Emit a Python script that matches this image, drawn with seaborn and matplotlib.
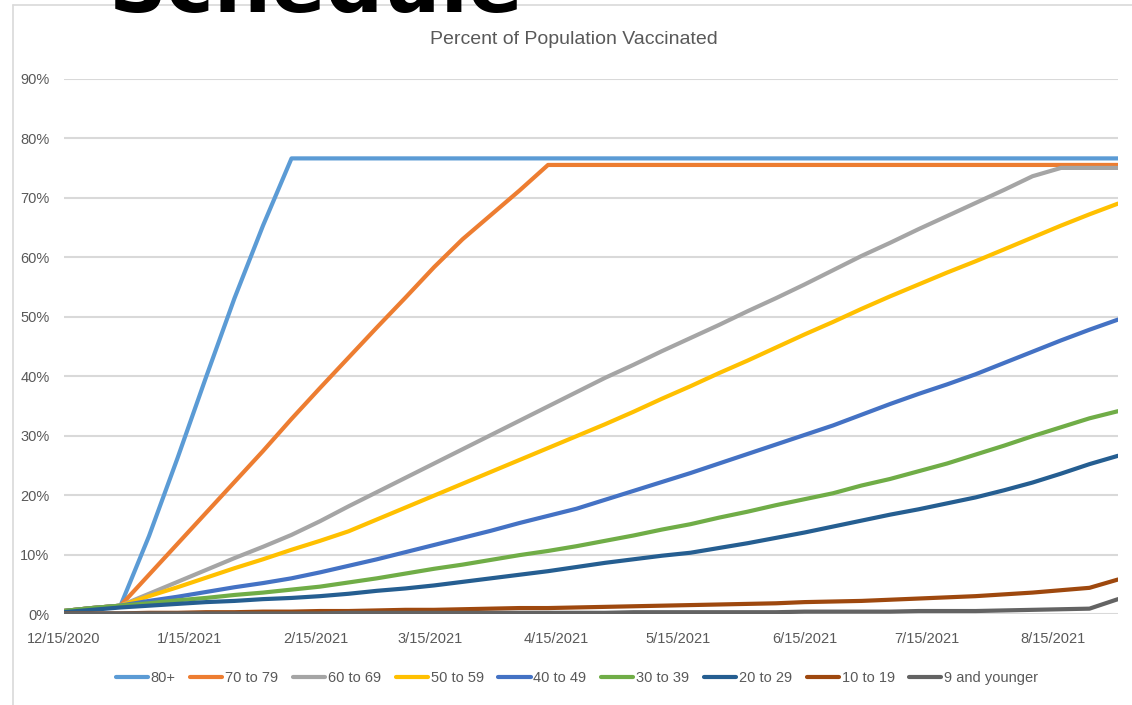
import matplotlib
matplotlib.use("Agg")
import matplotlib.pyplot as plt
from matplotlib.ticker import PercentFormatter, MultipleLocator
from matplotlib.lines import Line2D
import pandas as pd
import seaborn as sns

# Weekly reporting dates (Tuesdays)
dates = pd.date_range("2020-12-15", periods=38, freq="7D")

# Percent of each age group vaccinated, week by week
age_80_plus = [0.5, 1.0, 1.4, 13.1, 26.2, 39.8, 53.1, 65.3, 76.6] + [76.6] * 29
age_70_79 = [0.5, 1.0, 1.4, 6.6, 11.8, 17.0, 22.2, 27.4, 32.8, 38.0, 43.1, 48.2,
             53.2, 58.3, 63.0, 67.1, 71.2, 75.5] + [75.5] * 20
age_60_69 = [0.5, 1.0, 1.4, 3.4, 5.4, 7.4, 9.4, 11.3, 13.3, 15.6, 18.1, 20.5,
             22.9, 25.3, 27.7, 30.1, 32.5, 34.9, 37.3, 39.7, 41.9, 44.2, 46.4,
             48.6, 50.9, 53.1, 55.4, 57.8, 60.2, 62.4, 64.7, 66.9, 69.1, 71.3,
             73.6, 75.0, 75.0, 75.0]
age_50_59 = [0.5, 1.0, 1.4, 3.0, 4.5, 6.1, 7.7, 9.2, 10.8, 12.3, 13.9, 15.9,
             17.9, 19.9, 21.9, 23.9, 25.9, 27.9, 29.9, 31.9, 34.0, 36.2, 38.3,
             40.5, 42.6, 44.8, 47.0, 49.1, 51.3, 53.4, 55.4, 57.4, 59.3, 61.3,
             63.3, 65.3, 67.2, 69.0]
age_40_49 = [0.5, 1.0, 1.4, 2.2, 2.9, 3.7, 4.5, 5.2, 6.0, 7.0, 8.1, 9.2, 10.4,
             11.6, 12.8, 14.0, 15.3, 16.5, 17.7, 19.2, 20.7, 22.2, 23.7, 25.3,
             26.9, 28.5, 30.1, 31.7, 33.5, 35.3, 37.0, 38.6, 40.3, 42.2, 44.1,
             46.0, 47.8, 49.5]
age_30_39 = [0.5, 1.0, 1.4, 1.8, 2.3, 2.7, 3.2, 3.6, 4.1, 4.6, 5.3, 6.0, 6.8,
             7.6, 8.3, 9.1, 9.9, 10.6, 11.4, 12.3, 13.2, 14.2, 15.1, 16.2, 17.2,
             18.3, 19.3, 20.3, 21.6, 22.7, 24.0, 25.3, 26.8, 28.3, 29.9, 31.4,
             32.9, 34.1]
age_20_29 = [0.3, 0.7, 1.1, 1.4, 1.7, 2.0, 2.2, 2.5, 2.7, 3.0, 3.4, 3.9, 4.3,
             4.8, 5.4, 6.0, 6.6, 7.2, 7.9, 8.6, 9.2, 9.8, 10.3, 11.1, 11.9,
             12.8, 13.7, 14.7, 15.7, 16.7, 17.6, 18.6, 19.6, 20.8, 22.1, 23.6,
             25.2, 26.6]
age_10_19 = [0.1, 0.1, 0.1, 0.2, 0.2, 0.3, 0.3, 0.4, 0.4, 0.5, 0.5, 0.6, 0.7,
             0.7, 0.8, 0.9, 1.0, 1.0, 1.1, 1.2, 1.3, 1.4, 1.5, 1.6, 1.7, 1.8,
             2.0, 2.1, 2.2, 2.4, 2.6, 2.8, 3.0, 3.3, 3.6, 4.0, 4.4, 5.8]
age_9_under = [0.1] * 10 + [0.2] * 10 + [0.3] * 6 + [0.4] * 4 + [0.5] * 3 + \
              [0.6, 0.7, 0.8, 0.9, 2.5]

series_names = ["80+", "70 to 79", "60 to 69", "50 to 59", "40 to 49",
                "30 to 39", "20 to 29", "10 to 19", "9 and younger"]
series_values = [age_80_plus, age_70_79, age_60_69, age_50_59, age_40_49,
                 age_30_39, age_20_29, age_10_19, age_9_under]
series_colors = ["#5B9BD5", "#ED7D31", "#A5A5A5", "#FFC000", "#4472C4",
                 "#70AD47", "#255E91", "#9E480E", "#636363"]
tick_dates = ["2020-12-15", "2021-01-15", "2021-02-15", "2021-03-15",
              "2021-04-15", "2021-05-15", "2021-06-15", "2021-07-15",
              "2021-08-15"]

frames = []
for name, vals in zip(series_names, series_values):
    frames.append(pd.DataFrame({"date": dates, "pct": [v / 100 for v in vals],
                                "group": name}))
data = pd.concat(frames, ignore_index=True)

sns.set_theme(style="white")
plt.rcParams["font.family"] = ["Liberation Sans", "DejaVu Sans"]
text_grey = "#595959"
grid_grey = "#D9D9D9"

W, H = 1132, 705
fig = plt.figure(figsize=(W / 100, H / 100), dpi=100)
ax = fig.add_axes([63.5 / W, 1 - 614 / H, (1118 - 63.5) / W, (614 - 78.7) / H])

sns.lineplot(data=data, x="date", y="pct", hue="group",
             hue_order=series_names, palette=dict(zip(series_names, series_colors)),
             linewidth=3.0, ax=ax, legend=False, solid_capstyle="round", zorder=3)

ax.set_xlim(dates[0], dates[-1])
ax.set_ylim(0, 0.9)
ax.yaxis.set_major_locator(MultipleLocator(0.1))
ax.yaxis.set_major_formatter(PercentFormatter(xmax=1, decimals=0))
ax.set_xticks(pd.to_datetime(tick_dates))
ax.set_xticklabels([f"{d.month}/{d.day}/{d.year}" for d in pd.to_datetime(tick_dates)])
ax.grid(axis="y", color=grid_grey, linewidth=1.5)
ax.grid(axis="x", visible=False)
ax.set_axisbelow(True)
for s in ax.spines.values():
    s.set_visible(False)
ax.tick_params(axis="x", length=0, pad=13, labelsize=10.5, labelcolor=text_grey)
ax.tick_params(axis="y", length=0, pad=10, labelsize=10.5, labelcolor=text_grey)
ax.set_xlabel("")
ax.set_ylabel("")

# chart frame
fig.add_artist(Line2D([13 / W, 13 / W], [0, 1 - 4.5 / H], transform=fig.transFigure,
                      color=grid_grey, linewidth=1.2))
fig.add_artist(Line2D([13 / W, 1], [1 - 4.5 / H, 1 - 4.5 / H], transform=fig.transFigure,
                      color=grid_grey, linewidth=1.2))

# heading above the chart frame
fig.text(108 / W, 1 - 12 / H, "Schedule", fontsize=58, fontweight="bold",
         color="black", family="DejaVu Sans", ha="left", va="baseline")

fig.text(574 / W, 1 - 40 / H, "Percent of Population Vaccinated",
         fontsize=14, color=text_grey, ha="center", va="center")

handles = [Line2D([], [], color=c, linewidth=3.0, solid_capstyle="round")
           for c in series_colors]
fig.legend(handles, series_names, loc="center", bbox_to_anchor=(577 / W, 1 - 678 / H),
           ncol=9, frameon=False, fontsize=10.5, labelcolor=text_grey,
           handlelength=2.2, handletextpad=0.2, columnspacing=1.0)

fig.savefig("out.png", dpi=100)
